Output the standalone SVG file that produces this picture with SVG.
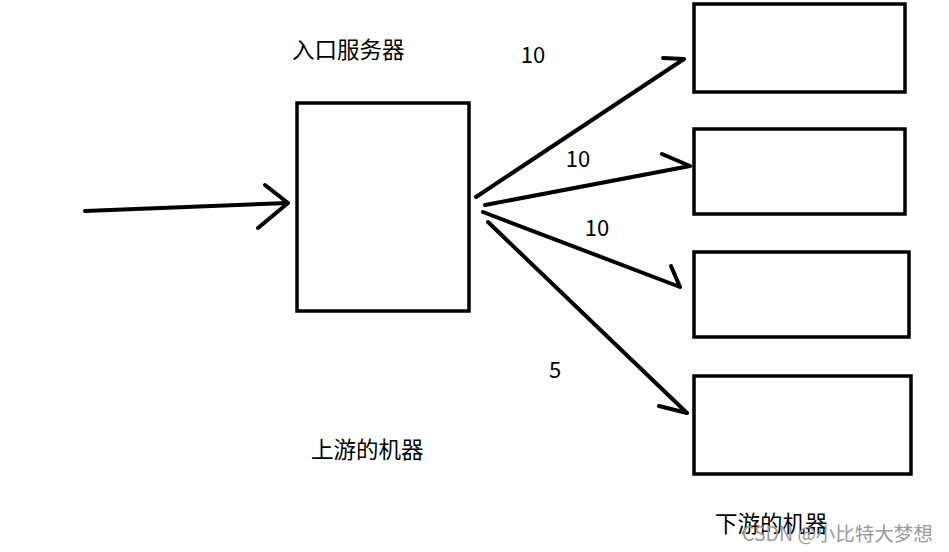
<svg xmlns="http://www.w3.org/2000/svg" width="949" height="552" viewBox="0 0 949 552">
<style>
.box{fill:#fff;stroke:#000;stroke-width:3.5}
.ln{fill:none;stroke:#000;stroke-width:4;stroke-linecap:round;stroke-linejoin:round}
.t{font-family:"Noto Sans CJK SC","Microsoft YaHei",sans-serif;font-size:22.5px;fill:#000}
.n{font-family:"Noto Sans CJK SC","Microsoft YaHei",sans-serif;font-size:22px;fill:#000}
.wm{font-family:"Noto Sans CJK SC",sans-serif;font-size:19.5px;fill:#9a9a9a}
</style>
<rect width="949" height="552" fill="#fff"/>
<g id="entry"><rect class="box" x="297" y="103" width="172" height="208"/></g>
<g id="down1"><rect class="box" x="694" y="4" width="211" height="88"/></g>
<g id="down2"><rect class="box" x="694" y="129" width="211" height="85"/></g>
<g id="down3"><rect class="box" x="694" y="252" width="215" height="85"/></g>
<g id="down4"><rect class="box" x="694" y="376" width="217" height="98"/></g>
<g id="connectors">
<path class="ln" d="M85 211 L288 203 M265 185 L288 203 L258 228"/>
<path class="ln" d="M476 197 L684 59 M663 58 L684 59"/>
<path class="ln" d="M485 205 L690 166 M662 154 L690 166"/>
<path class="ln" d="M483 212 L680 287 M671 266 L680 287"/>
<path class="ln" d="M488 222 L687 413 M659 406 L687 413"/>
</g>
<g id="labels">
<text class="n" x="533" y="63" text-anchor="middle">10</text>
<text class="n" x="578" y="167" text-anchor="middle">10</text>
<text class="n" x="597" y="236" text-anchor="middle">10</text>
<text class="n" x="555" y="378" text-anchor="middle">5</text>
<text class="t" x="292" y="58">入口服务器</text>
<text class="t" x="311" y="458">上游的机器</text>
<text class="t" x="715" y="532">下游的机器</text>
<text class="wm" x="742" y="541">CSDN @小比特大梦想</text>
</g>
</svg>
